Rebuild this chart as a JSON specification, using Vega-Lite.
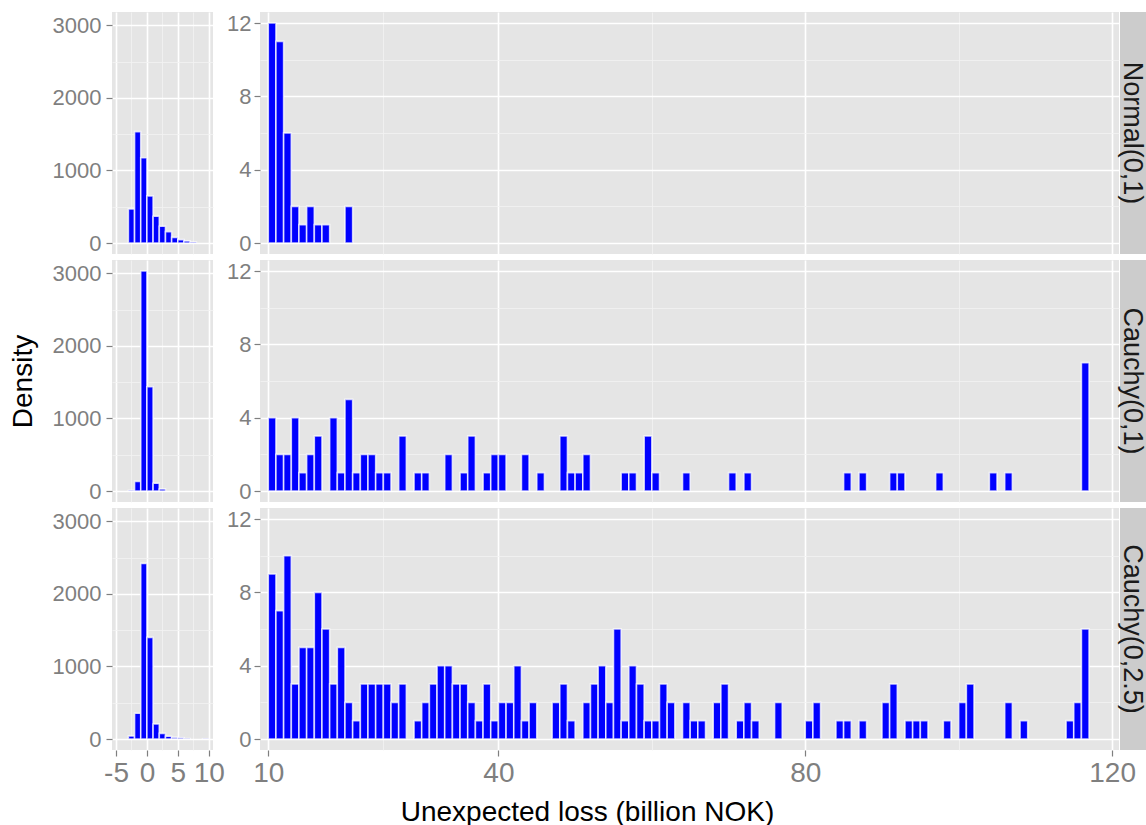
{
  "$schema": "https://vega.github.io/schema/vega-lite/v6.json",
  "padding": {"left": 9, "top": 11, "right": 0, "bottom": 0},
  "bounds": "flush",
  "columns": 4,
  "spacing": {"row": 6, "column": 1},
  "datasets": {
    "strips": [{"dist": "Normal(0,1)"}, {"dist": "Cauchy(0,1)"}, {"dist": "Cauchy(0,2.5)"}],
    "hist": [
      {"dist": "Normal(0,1)", "side": "left", "lo": -3, "hi": -2, "count": 470},
      {"dist": "Normal(0,1)", "side": "left", "lo": -2, "hi": -1, "count": 1535},
      {"dist": "Normal(0,1)", "side": "left", "lo": -1, "hi": 0, "count": 1175},
      {"dist": "Normal(0,1)", "side": "left", "lo": 0, "hi": 1, "count": 650},
      {"dist": "Normal(0,1)", "side": "left", "lo": 1, "hi": 2, "count": 369},
      {"dist": "Normal(0,1)", "side": "left", "lo": 2, "hi": 3, "count": 230},
      {"dist": "Normal(0,1)", "side": "left", "lo": 3, "hi": 4, "count": 157},
      {"dist": "Normal(0,1)", "side": "left", "lo": 4, "hi": 5, "count": 78},
      {"dist": "Normal(0,1)", "side": "left", "lo": 5, "hi": 6, "count": 46},
      {"dist": "Normal(0,1)", "side": "left", "lo": 6, "hi": 7, "count": 28},
      {"dist": "Normal(0,1)", "side": "left", "lo": 7, "hi": 8, "count": 12},
      {"dist": "Cauchy(0,1)", "side": "left", "lo": -3, "hi": -2, "count": 8},
      {"dist": "Cauchy(0,1)", "side": "left", "lo": -2, "hi": -1, "count": 133},
      {"dist": "Cauchy(0,1)", "side": "left", "lo": -1, "hi": 0, "count": 3033},
      {"dist": "Cauchy(0,1)", "side": "left", "lo": 0, "hi": 1, "count": 1438},
      {"dist": "Cauchy(0,1)", "side": "left", "lo": 1, "hi": 2, "count": 106},
      {"dist": "Cauchy(0,1)", "side": "left", "lo": 2, "hi": 3, "count": 28},
      {"dist": "Cauchy(0,2.5)", "side": "left", "lo": -3, "hi": -2, "count": 41},
      {"dist": "Cauchy(0,2.5)", "side": "left", "lo": -2, "hi": -1, "count": 354},
      {"dist": "Cauchy(0,2.5)", "side": "left", "lo": -1, "hi": 0, "count": 2421},
      {"dist": "Cauchy(0,2.5)", "side": "left", "lo": 0, "hi": 1, "count": 1401},
      {"dist": "Cauchy(0,2.5)", "side": "left", "lo": 1, "hi": 2, "count": 207},
      {"dist": "Cauchy(0,2.5)", "side": "left", "lo": 2, "hi": 3, "count": 78},
      {"dist": "Cauchy(0,2.5)", "side": "left", "lo": 3, "hi": 4, "count": 37},
      {"dist": "Cauchy(0,2.5)", "side": "left", "lo": 4, "hi": 5, "count": 23},
      {"dist": "Cauchy(0,2.5)", "side": "left", "lo": 5, "hi": 6, "count": 18},
      {"dist": "Cauchy(0,2.5)", "side": "left", "lo": 6, "hi": 7, "count": 6},
      {"dist": "Cauchy(0,2.5)", "side": "left", "lo": 9, "hi": 10, "count": 4},

      {"dist": "Normal(0,1)", "side": "right", "lo": 10, "hi": 11, "count": 12},
      {"dist": "Normal(0,1)", "side": "right", "lo": 11, "hi": 12, "count": 11},
      {"dist": "Normal(0,1)", "side": "right", "lo": 12, "hi": 13, "count": 6},
      {"dist": "Normal(0,1)", "side": "right", "lo": 13, "hi": 14, "count": 2},
      {"dist": "Normal(0,1)", "side": "right", "lo": 14, "hi": 15, "count": 1},
      {"dist": "Normal(0,1)", "side": "right", "lo": 15, "hi": 16, "count": 2},
      {"dist": "Normal(0,1)", "side": "right", "lo": 16, "hi": 17, "count": 1},
      {"dist": "Normal(0,1)", "side": "right", "lo": 17, "hi": 18, "count": 1},
      {"dist": "Normal(0,1)", "side": "right", "lo": 20, "hi": 21, "count": 2},

      {"dist": "Cauchy(0,1)", "side": "right", "lo": 10, "hi": 11, "count": 4},
      {"dist": "Cauchy(0,1)", "side": "right", "lo": 11, "hi": 12, "count": 2},
      {"dist": "Cauchy(0,1)", "side": "right", "lo": 12, "hi": 13, "count": 2},
      {"dist": "Cauchy(0,1)", "side": "right", "lo": 13, "hi": 14, "count": 4},
      {"dist": "Cauchy(0,1)", "side": "right", "lo": 14, "hi": 15, "count": 1},
      {"dist": "Cauchy(0,1)", "side": "right", "lo": 15, "hi": 16, "count": 2},
      {"dist": "Cauchy(0,1)", "side": "right", "lo": 16, "hi": 17, "count": 3},
      {"dist": "Cauchy(0,1)", "side": "right", "lo": 18, "hi": 19, "count": 4},
      {"dist": "Cauchy(0,1)", "side": "right", "lo": 19, "hi": 20, "count": 1},
      {"dist": "Cauchy(0,1)", "side": "right", "lo": 20, "hi": 21, "count": 5},
      {"dist": "Cauchy(0,1)", "side": "right", "lo": 21, "hi": 22, "count": 1},
      {"dist": "Cauchy(0,1)", "side": "right", "lo": 22, "hi": 23, "count": 2},
      {"dist": "Cauchy(0,1)", "side": "right", "lo": 23, "hi": 24, "count": 2},
      {"dist": "Cauchy(0,1)", "side": "right", "lo": 24, "hi": 25, "count": 1},
      {"dist": "Cauchy(0,1)", "side": "right", "lo": 25, "hi": 26, "count": 1},
      {"dist": "Cauchy(0,1)", "side": "right", "lo": 27, "hi": 28, "count": 3},
      {"dist": "Cauchy(0,1)", "side": "right", "lo": 29, "hi": 30, "count": 1},
      {"dist": "Cauchy(0,1)", "side": "right", "lo": 30, "hi": 31, "count": 1},
      {"dist": "Cauchy(0,1)", "side": "right", "lo": 33, "hi": 34, "count": 2},
      {"dist": "Cauchy(0,1)", "side": "right", "lo": 35, "hi": 36, "count": 1},
      {"dist": "Cauchy(0,1)", "side": "right", "lo": 36, "hi": 37, "count": 3},
      {"dist": "Cauchy(0,1)", "side": "right", "lo": 38, "hi": 39, "count": 1},
      {"dist": "Cauchy(0,1)", "side": "right", "lo": 39, "hi": 40, "count": 2},
      {"dist": "Cauchy(0,1)", "side": "right", "lo": 40, "hi": 41, "count": 2},
      {"dist": "Cauchy(0,1)", "side": "right", "lo": 43, "hi": 44, "count": 2},
      {"dist": "Cauchy(0,1)", "side": "right", "lo": 45, "hi": 46, "count": 1},
      {"dist": "Cauchy(0,1)", "side": "right", "lo": 48, "hi": 49, "count": 3},
      {"dist": "Cauchy(0,1)", "side": "right", "lo": 49, "hi": 50, "count": 1},
      {"dist": "Cauchy(0,1)", "side": "right", "lo": 50, "hi": 51, "count": 1},
      {"dist": "Cauchy(0,1)", "side": "right", "lo": 51, "hi": 52, "count": 2},
      {"dist": "Cauchy(0,1)", "side": "right", "lo": 56, "hi": 57, "count": 1},
      {"dist": "Cauchy(0,1)", "side": "right", "lo": 57, "hi": 58, "count": 1},
      {"dist": "Cauchy(0,1)", "side": "right", "lo": 59, "hi": 60, "count": 3},
      {"dist": "Cauchy(0,1)", "side": "right", "lo": 60, "hi": 61, "count": 1},
      {"dist": "Cauchy(0,1)", "side": "right", "lo": 64, "hi": 65, "count": 1},
      {"dist": "Cauchy(0,1)", "side": "right", "lo": 70, "hi": 71, "count": 1},
      {"dist": "Cauchy(0,1)", "side": "right", "lo": 72, "hi": 73, "count": 1},
      {"dist": "Cauchy(0,1)", "side": "right", "lo": 85, "hi": 86, "count": 1},
      {"dist": "Cauchy(0,1)", "side": "right", "lo": 87, "hi": 88, "count": 1},
      {"dist": "Cauchy(0,1)", "side": "right", "lo": 91, "hi": 92, "count": 1},
      {"dist": "Cauchy(0,1)", "side": "right", "lo": 92, "hi": 93, "count": 1},
      {"dist": "Cauchy(0,1)", "side": "right", "lo": 97, "hi": 98, "count": 1},
      {"dist": "Cauchy(0,1)", "side": "right", "lo": 104, "hi": 105, "count": 1},
      {"dist": "Cauchy(0,1)", "side": "right", "lo": 106, "hi": 107, "count": 1},
      {"dist": "Cauchy(0,1)", "side": "right", "lo": 116, "hi": 117, "count": 7},

      {"dist": "Cauchy(0,2.5)", "side": "right", "lo": 10, "hi": 11, "count": 9},
      {"dist": "Cauchy(0,2.5)", "side": "right", "lo": 11, "hi": 12, "count": 7},
      {"dist": "Cauchy(0,2.5)", "side": "right", "lo": 12, "hi": 13, "count": 10},
      {"dist": "Cauchy(0,2.5)", "side": "right", "lo": 13, "hi": 14, "count": 3},
      {"dist": "Cauchy(0,2.5)", "side": "right", "lo": 14, "hi": 15, "count": 5},
      {"dist": "Cauchy(0,2.5)", "side": "right", "lo": 15, "hi": 16, "count": 5},
      {"dist": "Cauchy(0,2.5)", "side": "right", "lo": 16, "hi": 17, "count": 8},
      {"dist": "Cauchy(0,2.5)", "side": "right", "lo": 17, "hi": 18, "count": 6},
      {"dist": "Cauchy(0,2.5)", "side": "right", "lo": 18, "hi": 19, "count": 3},
      {"dist": "Cauchy(0,2.5)", "side": "right", "lo": 19, "hi": 20, "count": 5},
      {"dist": "Cauchy(0,2.5)", "side": "right", "lo": 20, "hi": 21, "count": 2},
      {"dist": "Cauchy(0,2.5)", "side": "right", "lo": 21, "hi": 22, "count": 1},
      {"dist": "Cauchy(0,2.5)", "side": "right", "lo": 22, "hi": 23, "count": 3},
      {"dist": "Cauchy(0,2.5)", "side": "right", "lo": 23, "hi": 24, "count": 3},
      {"dist": "Cauchy(0,2.5)", "side": "right", "lo": 24, "hi": 25, "count": 3},
      {"dist": "Cauchy(0,2.5)", "side": "right", "lo": 25, "hi": 26, "count": 3},
      {"dist": "Cauchy(0,2.5)", "side": "right", "lo": 26, "hi": 27, "count": 2},
      {"dist": "Cauchy(0,2.5)", "side": "right", "lo": 27, "hi": 28, "count": 3},
      {"dist": "Cauchy(0,2.5)", "side": "right", "lo": 29, "hi": 30, "count": 1},
      {"dist": "Cauchy(0,2.5)", "side": "right", "lo": 30, "hi": 31, "count": 2},
      {"dist": "Cauchy(0,2.5)", "side": "right", "lo": 31, "hi": 32, "count": 3},
      {"dist": "Cauchy(0,2.5)", "side": "right", "lo": 32, "hi": 33, "count": 4},
      {"dist": "Cauchy(0,2.5)", "side": "right", "lo": 33, "hi": 34, "count": 4},
      {"dist": "Cauchy(0,2.5)", "side": "right", "lo": 34, "hi": 35, "count": 3},
      {"dist": "Cauchy(0,2.5)", "side": "right", "lo": 35, "hi": 36, "count": 3},
      {"dist": "Cauchy(0,2.5)", "side": "right", "lo": 36, "hi": 37, "count": 2},
      {"dist": "Cauchy(0,2.5)", "side": "right", "lo": 37, "hi": 38, "count": 1},
      {"dist": "Cauchy(0,2.5)", "side": "right", "lo": 38, "hi": 39, "count": 3},
      {"dist": "Cauchy(0,2.5)", "side": "right", "lo": 39, "hi": 40, "count": 1},
      {"dist": "Cauchy(0,2.5)", "side": "right", "lo": 40, "hi": 41, "count": 2},
      {"dist": "Cauchy(0,2.5)", "side": "right", "lo": 41, "hi": 42, "count": 2},
      {"dist": "Cauchy(0,2.5)", "side": "right", "lo": 42, "hi": 43, "count": 4},
      {"dist": "Cauchy(0,2.5)", "side": "right", "lo": 43, "hi": 44, "count": 1},
      {"dist": "Cauchy(0,2.5)", "side": "right", "lo": 44, "hi": 45, "count": 2},
      {"dist": "Cauchy(0,2.5)", "side": "right", "lo": 47, "hi": 48, "count": 2},
      {"dist": "Cauchy(0,2.5)", "side": "right", "lo": 48, "hi": 49, "count": 3},
      {"dist": "Cauchy(0,2.5)", "side": "right", "lo": 49, "hi": 50, "count": 1},
      {"dist": "Cauchy(0,2.5)", "side": "right", "lo": 51, "hi": 52, "count": 2},
      {"dist": "Cauchy(0,2.5)", "side": "right", "lo": 52, "hi": 53, "count": 3},
      {"dist": "Cauchy(0,2.5)", "side": "right", "lo": 53, "hi": 54, "count": 4},
      {"dist": "Cauchy(0,2.5)", "side": "right", "lo": 54, "hi": 55, "count": 2},
      {"dist": "Cauchy(0,2.5)", "side": "right", "lo": 55, "hi": 56, "count": 6},
      {"dist": "Cauchy(0,2.5)", "side": "right", "lo": 56, "hi": 57, "count": 1},
      {"dist": "Cauchy(0,2.5)", "side": "right", "lo": 57, "hi": 58, "count": 4},
      {"dist": "Cauchy(0,2.5)", "side": "right", "lo": 58, "hi": 59, "count": 3},
      {"dist": "Cauchy(0,2.5)", "side": "right", "lo": 59, "hi": 60, "count": 1},
      {"dist": "Cauchy(0,2.5)", "side": "right", "lo": 60, "hi": 61, "count": 1},
      {"dist": "Cauchy(0,2.5)", "side": "right", "lo": 61, "hi": 62, "count": 3},
      {"dist": "Cauchy(0,2.5)", "side": "right", "lo": 62, "hi": 63, "count": 2},
      {"dist": "Cauchy(0,2.5)", "side": "right", "lo": 64, "hi": 65, "count": 2},
      {"dist": "Cauchy(0,2.5)", "side": "right", "lo": 65, "hi": 66, "count": 1},
      {"dist": "Cauchy(0,2.5)", "side": "right", "lo": 66, "hi": 67, "count": 1},
      {"dist": "Cauchy(0,2.5)", "side": "right", "lo": 68, "hi": 69, "count": 2},
      {"dist": "Cauchy(0,2.5)", "side": "right", "lo": 69, "hi": 70, "count": 3},
      {"dist": "Cauchy(0,2.5)", "side": "right", "lo": 71, "hi": 72, "count": 1},
      {"dist": "Cauchy(0,2.5)", "side": "right", "lo": 72, "hi": 73, "count": 2},
      {"dist": "Cauchy(0,2.5)", "side": "right", "lo": 73, "hi": 74, "count": 1},
      {"dist": "Cauchy(0,2.5)", "side": "right", "lo": 76, "hi": 77, "count": 2},
      {"dist": "Cauchy(0,2.5)", "side": "right", "lo": 80, "hi": 81, "count": 1},
      {"dist": "Cauchy(0,2.5)", "side": "right", "lo": 81, "hi": 82, "count": 2},
      {"dist": "Cauchy(0,2.5)", "side": "right", "lo": 84, "hi": 85, "count": 1},
      {"dist": "Cauchy(0,2.5)", "side": "right", "lo": 85, "hi": 86, "count": 1},
      {"dist": "Cauchy(0,2.5)", "side": "right", "lo": 87, "hi": 88, "count": 1},
      {"dist": "Cauchy(0,2.5)", "side": "right", "lo": 90, "hi": 91, "count": 2},
      {"dist": "Cauchy(0,2.5)", "side": "right", "lo": 91, "hi": 92, "count": 3},
      {"dist": "Cauchy(0,2.5)", "side": "right", "lo": 93, "hi": 94, "count": 1},
      {"dist": "Cauchy(0,2.5)", "side": "right", "lo": 94, "hi": 95, "count": 1},
      {"dist": "Cauchy(0,2.5)", "side": "right", "lo": 95, "hi": 96, "count": 1},
      {"dist": "Cauchy(0,2.5)", "side": "right", "lo": 98, "hi": 99, "count": 1},
      {"dist": "Cauchy(0,2.5)", "side": "right", "lo": 100, "hi": 101, "count": 2},
      {"dist": "Cauchy(0,2.5)", "side": "right", "lo": 101, "hi": 102, "count": 3},
      {"dist": "Cauchy(0,2.5)", "side": "right", "lo": 106, "hi": 107, "count": 2},
      {"dist": "Cauchy(0,2.5)", "side": "right", "lo": 108, "hi": 109, "count": 1},
      {"dist": "Cauchy(0,2.5)", "side": "right", "lo": 114, "hi": 115, "count": 1},
      {"dist": "Cauchy(0,2.5)", "side": "right", "lo": 115, "hi": 116, "count": 2},
      {"dist": "Cauchy(0,2.5)", "side": "right", "lo": 116, "hi": 117, "count": 6}
    ]
  },
  "concat": [
    {
      "width": 101, "height": 242,
      "view": {"fill": "#E5E5E5", "stroke": null},
      "data": {"name": "hist"},
      "transform": [{"filter": "datum.dist == 'Normal(0,1)' && datum.side == 'left'"}],
      "mark": {"type": "bar", "fill": "#0000FF", "stroke": "#FFFFFF", "strokeWidth": 1.6, "strokeOpacity": 0.75},
      "encoding": {
        "x": {"field": "lo", "type": "quantitative", "scale": {"domain": [-5.65, 10.69], "nice": false, "zero": false},
              "axis": {"values": [-5, -2.5, 0, 2.5, 5, 7.5, 10], "title": null, "labels": false, "ticks": false,
                       "gridColor": {"condition": {"test": "datum.value % 5 != 0", "value": "#F2F2F2"}, "value": "#FFFFFF"},
                       "gridWidth": {"condition": {"test": "datum.value % 5 != 0", "value": 0.8}, "value": 1.6}}},
        "x2": {"field": "hi"},
        "y": {"field": "count", "type": "quantitative", "scale": {"domain": [-151.6, 3184.6], "nice": false, "zero": false},
              "axis": {"values": [0, 500, 1000, 1500, 2000, 2500, 3000], "title": null,
                       "labelExpr": "datum.value % 1000 != 0 ? '' : '' + datum.value",
                       "labelFontSize": 22, "labelPadding": 5, "tickSize": 6, "tickWidth": 1.2,
                       "tickOpacity": {"condition": {"test": "datum.value % 1000 != 0", "value": 0}, "value": 1},
                       "gridColor": {"condition": {"test": "datum.value % 1000 != 0", "value": "#F2F2F2"}, "value": "#FFFFFF"},
                       "gridWidth": {"condition": {"test": "datum.value % 1000 != 0", "value": 0.8}, "value": 1.6}}},
        "y2": {"datum": 0}
      }
    },
    {
      "width": 45, "height": 242,
      "data": {"name": "strips"},
      "transform": [{"filter": "false"}],
      "mark": {"type": "text"},
      "encoding": {}
    },
    {
      "width": 859, "height": 242,
      "view": {"fill": "#E5E5E5", "stroke": null},
      "data": {"name": "hist"},
      "transform": [{"filter": "datum.dist == 'Normal(0,1)' && datum.side == 'right'"}],
      "mark": {"type": "bar", "fill": "#0000FF", "stroke": "#FFFFFF", "strokeWidth": 1.6, "strokeOpacity": 0.75},
      "encoding": {
        "x": {"field": "lo", "type": "quantitative", "scale": {"domain": [8.92, 120.9], "nice": false, "zero": false},
              "axis": {"values": [10, 25, 40, 60, 80, 100, 120], "title": null, "labels": false, "ticks": false,
                       "gridColor": {"condition": {"test": "datum.value == 25 || datum.value == 60 || datum.value == 100", "value": "#F2F2F2"}, "value": "#FFFFFF"},
                       "gridWidth": {"condition": {"test": "datum.value == 25 || datum.value == 60 || datum.value == 100", "value": 0.8}, "value": 1.6}}},
        "x2": {"field": "hi"},
        "y": {"field": "count", "type": "quantitative", "scale": {"domain": [-0.6, 12.6], "nice": false, "zero": false},
              "axis": {"values": [0, 2, 4, 6, 8, 10, 12], "title": null,
                       "labelExpr": "datum.value % 4 != 0 ? '' : '' + datum.value",
                       "labelFontSize": 22, "labelPadding": 3, "tickSize": 6, "tickWidth": 1.2,
                       "tickOpacity": {"condition": {"test": "datum.value % 4 != 0", "value": 0}, "value": 1},
                       "gridColor": {"condition": {"test": "datum.value % 4 != 0", "value": "#F2F2F2"}, "value": "#FFFFFF"},
                       "gridWidth": {"condition": {"test": "datum.value % 4 != 0", "value": 0.8}, "value": 1.6}}},
        "y2": {"datum": 0}
      }
    },
    {
      "width": 26, "height": 242,
      "view": {"fill": "#CCCCCC", "stroke": null},
      "data": {"name": "strips"},
      "transform": [{"filter": "datum.dist == 'Normal(0,1)'"}],
      "mark": {"type": "text", "angle": 90, "fontSize": 27, "dy": 1.5, "color": "#1A1A1A", "align": "center", "baseline": "middle", "font": "Liberation Sans"},
      "encoding": {"text": {"field": "dist", "type": "nominal"}}
    },
    {
      "width": 101, "height": 242,
      "view": {"fill": "#E5E5E5", "stroke": null},
      "data": {"name": "hist"},
      "transform": [{"filter": "datum.dist == 'Cauchy(0,1)' && datum.side == 'left'"}],
      "mark": {"type": "bar", "fill": "#0000FF", "stroke": "#FFFFFF", "strokeWidth": 1.6, "strokeOpacity": 0.75},
      "encoding": {
        "x": {"field": "lo", "type": "quantitative", "scale": {"domain": [-5.65, 10.69], "nice": false, "zero": false},
              "axis": {"values": [-5, -2.5, 0, 2.5, 5, 7.5, 10], "title": null, "labels": false, "ticks": false,
                       "gridColor": {"condition": {"test": "datum.value % 5 != 0", "value": "#F2F2F2"}, "value": "#FFFFFF"},
                       "gridWidth": {"condition": {"test": "datum.value % 5 != 0", "value": 0.8}, "value": 1.6}}},
        "x2": {"field": "hi"},
        "y": {"field": "count", "type": "quantitative", "scale": {"domain": [-151.6, 3184.6], "nice": false, "zero": false},
              "axis": {"values": [0, 500, 1000, 1500, 2000, 2500, 3000], "title": "Density",
                       "titleX": -89, "titleY": 121, "titleAngle": 270, "titleAlign": "center", "titleBaseline": "middle",
                       "labelExpr": "datum.value % 1000 != 0 ? '' : '' + datum.value",
                       "labelFontSize": 22, "labelPadding": 5, "tickSize": 6, "tickWidth": 1.2,
                       "tickOpacity": {"condition": {"test": "datum.value % 1000 != 0", "value": 0}, "value": 1},
                       "gridColor": {"condition": {"test": "datum.value % 1000 != 0", "value": "#F2F2F2"}, "value": "#FFFFFF"},
                       "gridWidth": {"condition": {"test": "datum.value % 1000 != 0", "value": 0.8}, "value": 1.6}}},
        "y2": {"datum": 0}
      }
    },
    {
      "width": 45, "height": 242,
      "data": {"name": "strips"},
      "transform": [{"filter": "false"}],
      "mark": {"type": "text"},
      "encoding": {}
    },
    {
      "width": 859, "height": 242,
      "view": {"fill": "#E5E5E5", "stroke": null},
      "data": {"name": "hist"},
      "transform": [{"filter": "datum.dist == 'Cauchy(0,1)' && datum.side == 'right'"}],
      "mark": {"type": "bar", "fill": "#0000FF", "stroke": "#FFFFFF", "strokeWidth": 1.6, "strokeOpacity": 0.75},
      "encoding": {
        "x": {"field": "lo", "type": "quantitative", "scale": {"domain": [8.92, 120.9], "nice": false, "zero": false},
              "axis": {"values": [10, 25, 40, 60, 80, 100, 120], "title": null, "labels": false, "ticks": false,
                       "gridColor": {"condition": {"test": "datum.value == 25 || datum.value == 60 || datum.value == 100", "value": "#F2F2F2"}, "value": "#FFFFFF"},
                       "gridWidth": {"condition": {"test": "datum.value == 25 || datum.value == 60 || datum.value == 100", "value": 0.8}, "value": 1.6}}},
        "x2": {"field": "hi"},
        "y": {"field": "count", "type": "quantitative", "scale": {"domain": [-0.6, 12.6], "nice": false, "zero": false},
              "axis": {"values": [0, 2, 4, 6, 8, 10, 12], "title": null,
                       "labelExpr": "datum.value % 4 != 0 ? '' : '' + datum.value",
                       "labelFontSize": 22, "labelPadding": 3, "tickSize": 6, "tickWidth": 1.2,
                       "tickOpacity": {"condition": {"test": "datum.value % 4 != 0", "value": 0}, "value": 1},
                       "gridColor": {"condition": {"test": "datum.value % 4 != 0", "value": "#F2F2F2"}, "value": "#FFFFFF"},
                       "gridWidth": {"condition": {"test": "datum.value % 4 != 0", "value": 0.8}, "value": 1.6}}},
        "y2": {"datum": 0}
      }
    },
    {
      "width": 26, "height": 242,
      "view": {"fill": "#CCCCCC", "stroke": null},
      "data": {"name": "strips"},
      "transform": [{"filter": "datum.dist == 'Cauchy(0,1)'"}],
      "mark": {"type": "text", "angle": 90, "fontSize": 27, "dy": 1.5, "color": "#1A1A1A", "align": "center", "baseline": "middle", "font": "Liberation Sans"},
      "encoding": {"text": {"field": "dist", "type": "nominal"}}
    },
    {
      "width": 101, "height": 242,
      "view": {"fill": "#E5E5E5", "stroke": null},
      "data": {"name": "hist"},
      "transform": [{"filter": "datum.dist == 'Cauchy(0,2.5)' && datum.side == 'left'"}],
      "mark": {"type": "bar", "fill": "#0000FF", "stroke": "#FFFFFF", "strokeWidth": 1.6, "strokeOpacity": 0.75},
      "encoding": {
        "x": {"field": "lo", "type": "quantitative", "scale": {"domain": [-5.65, 10.69], "nice": false, "zero": false},
              "axis": {"values": [-5, -2.5, 0, 2.5, 5, 7.5, 10], "title": null,
                       "labelExpr": "datum.value % 5 != 0 ? '' : '' + datum.value",
                       "labelFontSize": 28, "labelPadding": 3, "labelFlush": false, "labelOverlap": false,
                       "tickSize": 6, "tickWidth": 1.2,
                       "tickOpacity": {"condition": {"test": "datum.value % 5 != 0", "value": 0}, "value": 1},
                       "gridColor": {"condition": {"test": "datum.value % 5 != 0", "value": "#F2F2F2"}, "value": "#FFFFFF"},
                       "gridWidth": {"condition": {"test": "datum.value % 5 != 0", "value": 0.8}, "value": 1.6}}},
        "x2": {"field": "hi"},
        "y": {"field": "count", "type": "quantitative", "scale": {"domain": [-151.6, 3184.6], "nice": false, "zero": false},
              "axis": {"values": [0, 500, 1000, 1500, 2000, 2500, 3000], "title": null,
                       "labelExpr": "datum.value % 1000 != 0 ? '' : '' + datum.value",
                       "labelFontSize": 22, "labelPadding": 5, "tickSize": 6, "tickWidth": 1.2,
                       "tickOpacity": {"condition": {"test": "datum.value % 1000 != 0", "value": 0}, "value": 1},
                       "gridColor": {"condition": {"test": "datum.value % 1000 != 0", "value": "#F2F2F2"}, "value": "#FFFFFF"},
                       "gridWidth": {"condition": {"test": "datum.value % 1000 != 0", "value": 0.8}, "value": 1.6}}},
        "y2": {"datum": 0}
      }
    },
    {
      "width": 45, "height": 242,
      "data": {"name": "strips"},
      "transform": [{"filter": "false"}],
      "mark": {"type": "text"},
      "encoding": {}
    },
    {
      "width": 859, "height": 242,
      "view": {"fill": "#E5E5E5", "stroke": null},
      "data": {"name": "hist"},
      "transform": [{"filter": "datum.dist == 'Cauchy(0,2.5)' && datum.side == 'right'"}],
      "mark": {"type": "bar", "fill": "#0000FF", "stroke": "#FFFFFF", "strokeWidth": 1.6, "strokeOpacity": 0.75},
      "encoding": {
        "x": {"field": "lo", "type": "quantitative", "scale": {"domain": [8.92, 120.9], "nice": false, "zero": false},
              "axis": {"values": [10, 25, 40, 60, 80, 100, 120], "title": "Unexpected loss (billion NOK)",
                       "titleX": 327, "titleY": 70, "titleBaseline": "alphabetic", "titleAlign": "center", "titleAngle": 0,
                       "labelExpr": "datum.value == 25 || datum.value == 60 || datum.value == 100 ? '' : '' + datum.value",
                       "labelFontSize": 28, "labelPadding": 3, "labelFlush": false, "labelOverlap": false,
                       "tickSize": 6, "tickWidth": 1.2,
                       "tickOpacity": {"condition": {"test": "datum.value == 25 || datum.value == 60 || datum.value == 100", "value": 0}, "value": 1},
                       "gridColor": {"condition": {"test": "datum.value == 25 || datum.value == 60 || datum.value == 100", "value": "#F2F2F2"}, "value": "#FFFFFF"},
                       "gridWidth": {"condition": {"test": "datum.value == 25 || datum.value == 60 || datum.value == 100", "value": 0.8}, "value": 1.6}}},
        "x2": {"field": "hi"},
        "y": {"field": "count", "type": "quantitative", "scale": {"domain": [-0.6, 12.6], "nice": false, "zero": false},
              "axis": {"values": [0, 2, 4, 6, 8, 10, 12], "title": null,
                       "labelExpr": "datum.value % 4 != 0 ? '' : '' + datum.value",
                       "labelFontSize": 22, "labelPadding": 3, "tickSize": 6, "tickWidth": 1.2,
                       "tickOpacity": {"condition": {"test": "datum.value % 4 != 0", "value": 0}, "value": 1},
                       "gridColor": {"condition": {"test": "datum.value % 4 != 0", "value": "#F2F2F2"}, "value": "#FFFFFF"},
                       "gridWidth": {"condition": {"test": "datum.value % 4 != 0", "value": 0.8}, "value": 1.6}}},
        "y2": {"datum": 0}
      }
    },
    {
      "width": 26, "height": 242,
      "view": {"fill": "#CCCCCC", "stroke": null},
      "data": {"name": "strips"},
      "transform": [{"filter": "datum.dist == 'Cauchy(0,2.5)'"}],
      "mark": {"type": "text", "angle": 90, "fontSize": 27, "dy": 1.5, "color": "#1A1A1A", "align": "center", "baseline": "middle", "font": "Liberation Sans"},
      "encoding": {"text": {"field": "dist", "type": "nominal"}}
    }
  ],
  "config": {
    "font": "Liberation Sans",
    "view": {"stroke": null},
    "axis": {"domain": false, "grid": true, "labelColor": "#7F7F7F", "tickColor": "#7F7F7F",
             "labelFont": "Liberation Sans", "titleFont": "Liberation Sans", "titleColor": "#000000",
             "titleFontWeight": "normal", "titleFontSize": 28}
  }
}
